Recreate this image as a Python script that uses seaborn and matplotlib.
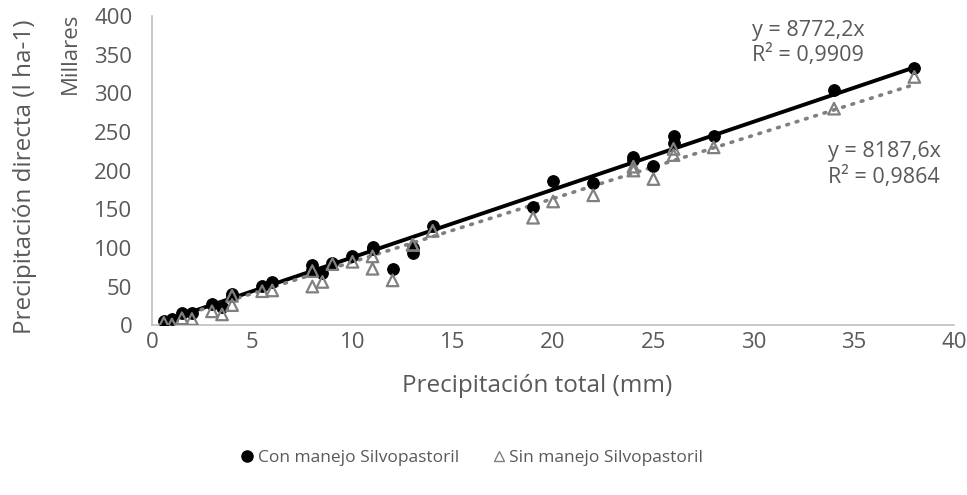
import matplotlib
matplotlib.use("Agg")
import matplotlib.pyplot as plt
from matplotlib.lines import Line2D
import numpy as np
import pandas as pd
import seaborn as sns

# Rainfall events: total precipitation (mm) and throughfall (thousands of l/ha)
precip_total = [0.6, 1, 1.5, 2, 3, 3.5, 4, 4, 5.5, 6, 8, 8, 8.5, 9, 10, 11, 11,
                12, 13, 13, 14, 19, 20, 22, 24, 24, 25, 26, 26, 28, 34, 38]
con_manejo = [5, 8, 16, 16, 28, 24, 40, 38, 51, 56, 78, 72, 68, 81, 89, 101, 98,
              73, 100, 93, 128, 153, 187, 184, 218, 213, 206, 245, 236, 245, 304, 333]
sin_manejo = [3, 1, 9, 8, 18, 14, 38, 26, 44, 45, 70, 50, 56, 79, 82, 89, 73,
              58, 104, 104, 122, 139, 160, 168, 205, 200, 189, 228, 220, 230, 280, 321]

# Trendlines through the origin (slope in l/ha per mm) and their R²
slope_con, r2_con = 8772.2, 0.9909
slope_sin, r2_sin = 8187.6, 0.9864

label_con = "Con manejo Silvopastoril"
label_sin = "Sin manejo Silvopastoril"

x_ticks = [0, 5, 10, 15, 20, 25, 30, 35, 40]
y_ticks = [0, 50, 100, 150, 200, 250, 300, 350, 400]

sns.set_theme(style="white")
plt.rcParams["font.family"] = ["Open Sans", "DejaVu Sans"]

TXT = "#595959"
AXIS = "#BFBFBF"
GRAY = "#808080"

df = pd.DataFrame({"x": precip_total, "con": con_manejo, "sin": sin_manejo})

fig = plt.figure(figsize=(9.67, 4.95), dpi=100)
ax = fig.add_axes([0.157, 0.343, 0.830, 0.625])

# Trendlines (values in thousands)
xr = np.array([min(precip_total), max(precip_total)])
sns.lineplot(x=xr, y=xr * slope_con / 1000, ax=ax, color="black", lw=2.8,
             zorder=2)
sns.lineplot(x=xr, y=xr * slope_sin / 1000, ax=ax, color=GRAY, lw=2.6,
             linestyle=(0, (0.5, 2.2)), dash_capstyle="round", zorder=2)

sns.scatterplot(data=df, x="x", y="con", ax=ax, marker="o", s=70,
                color="black", edgecolor="black", linewidth=0.8, zorder=3)
sns.scatterplot(data=df, x="x", y="sin", ax=ax, marker="^", s=70,
                facecolor="none", edgecolor=GRAY, linewidth=1.6, zorder=4)

ax.set_xlim(0, 40)
ax.set_ylim(0, 400)
ax.set_xticks(x_ticks)
ax.set_yticks(y_ticks)
ax.tick_params(axis="both", length=0, labelsize=16, labelcolor=TXT)
ax.tick_params(axis="y", pad=14)
ax.tick_params(axis="x", pad=5)
for side in ("top", "right"):
    ax.spines[side].set_visible(False)
for side in ("left", "bottom"):
    ax.spines[side].set_color(AXIS)
    ax.spines[side].set_linewidth(1.2)
ax.set_xlabel("")
ax.set_ylabel("")

fig.text(0.555, 0.220, "Precipitación total (mm)", ha="center", va="center",
         fontsize=17.5, color=TXT)
fig.text(0.026, 0.642, "Precipitación directa (l ha-1)", ha="center",
         va="center", rotation=90, fontsize=17.5, color=TXT)
fig.text(0.073, 0.892, "Millares", ha="center", va="center", rotation=90,
         fontsize=16, color=TXT)

def fmt(v, nd):
    return f"{v:.{nd}f}".replace(".", ",")

ax.text(29.9, 395, f"y = {fmt(slope_con, 1)}x\nR² = {fmt(r2_con, 4)}",
        fontsize=15.5, color=TXT, va="top", ha="left", linespacing=1.22)
ax.text(33.7, 238, f"y = {fmt(slope_sin, 1)}x\nR² = {fmt(r2_sin, 4)}",
        fontsize=15.5, color=TXT, va="top", ha="left", linespacing=1.22)

handles = [
    Line2D([], [], marker="o", ls="none", color="black", markersize=8),
    Line2D([], [], marker="^", ls="none", markerfacecolor="none",
           markeredgecolor=GRAY, markeredgewidth=1.0, markersize=7),
]
fig.legend(handles, [label_con, label_sin], loc="center",
           bbox_to_anchor=(0.487, 0.075), ncol=2, frameon=False,
           fontsize=12.5, labelcolor=TXT, handletextpad=0.1,
           columnspacing=1.8, handlelength=1.0)

fig.savefig("out.png", dpi=100)
